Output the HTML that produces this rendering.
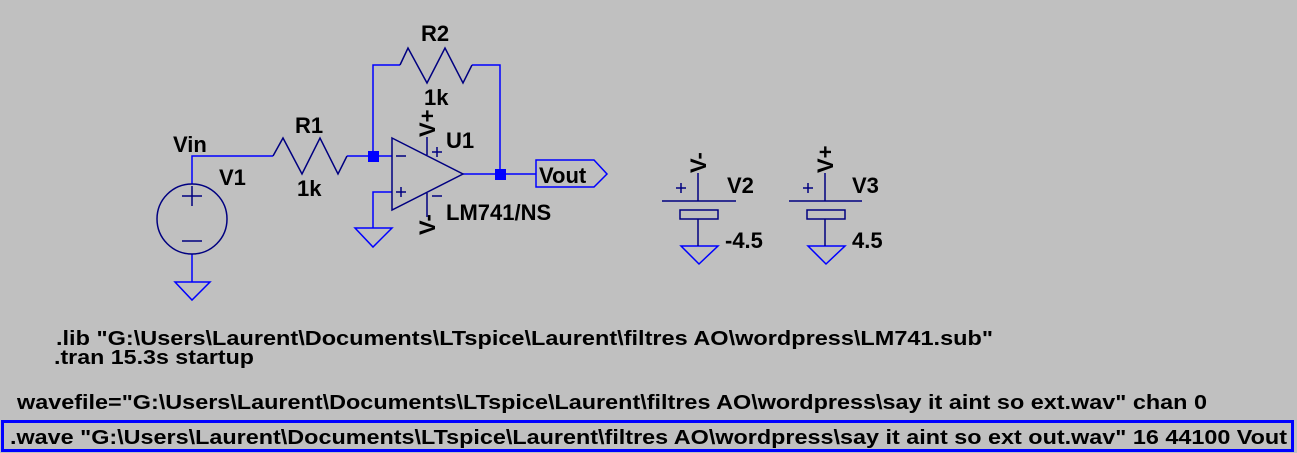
<!DOCTYPE html>
<html><head><style>
html,body{margin:0;padding:0;background:#c0c0c0;}
svg{display:block;}
text{font-family:"Liberation Sans",sans-serif;font-weight:bold;fill:#000;}
</style></head><body>
<svg width="1297" height="453" viewBox="0 0 1297 453" xmlns="http://www.w3.org/2000/svg">
<rect width="1297" height="453" fill="#c0c0c0"/>
<g fill="none" stroke="#0000ff" stroke-width="1.5">
<polyline points="192,184 192,156 273,156"/>
<polyline points="347,156 392,156"/>
<polyline points="392,192 373,192 373,228"/>
<polyline points="463,174 536,174"/>
<polyline points="373,156 373,65 400,65"/>
<polyline points="472,65 500,65 500,174"/>
<polyline points="192,254 192,282"/>
<polygon points="175,282 210,282 192,300"/>
<polygon points="355,228 392,228 373,247"/>
<polygon points="536,160 594,160 607,174 594,187 536,187"/>
<polygon points="681,246 718,246 699,264"/>
<polygon points="808,246 845,246 826,264"/>
</g>
<g fill="none" stroke="#000080" stroke-width="1.5">
<polyline points="273,156 283,138 302,174 320,138 338,174 347,156"/>
<polyline points="400,65 408,48 427,83 445,48 463,83 472,65"/>
<polygon points="392,138 463,174 392,210"/>
<line x1="427" y1="137" x2="427" y2="155"/>
<line x1="427" y1="193" x2="427" y2="217"/>
<circle cx="192" cy="219" r="35"/>
<line x1="182" y1="196" x2="202" y2="196"/><line x1="192" y1="186" x2="192" y2="206"/>
<line x1="182" y1="241" x2="202" y2="241"/>
<line x1="396" y1="156" x2="406" y2="156"/>
<line x1="396" y1="192" x2="406" y2="192"/><line x1="401" y1="187" x2="401" y2="197"/>
<line x1="432" y1="152" x2="442" y2="152"/><line x1="437" y1="147" x2="437" y2="157"/>
<line x1="432" y1="196" x2="442" y2="196"/>
<line x1="698" y1="173" x2="698" y2="201"/><line x1="662" y1="201" x2="736" y2="201"/>
<rect x="680" y="210" width="38" height="9"/><line x1="698" y1="219" x2="698" y2="246"/>
<line x1="676" y1="188" x2="686" y2="188"/><line x1="681" y1="183" x2="681" y2="193"/>
<line x1="825" y1="173" x2="825" y2="201"/><line x1="789" y1="201" x2="862" y2="201"/>
<rect x="807" y="210" width="38" height="9"/><line x1="825" y1="219" x2="825" y2="246"/>
<line x1="803" y1="188" x2="813" y2="188"/><line x1="808" y1="183" x2="808" y2="193"/>
</g>
<rect x="368" y="151" width="11" height="11" fill="#0000ff"/>
<rect x="495" y="169" width="11" height="11" fill="#0000ff"/>
<g font-size="22">
<text x="173" y="152">Vin</text>
<text x="219" y="185">V1</text>
<text x="295" y="133">R1</text>
<text x="297" y="196">1k</text>
<text x="421" y="41">R2</text>
<text x="424" y="105">1k</text>
<text x="446" y="148">U1</text>
<text x="446" y="220">LM741/NS</text>
<text x="539" y="183">Vout</text>
<text transform="translate(435,137) rotate(-90)">V+</text>
<text transform="translate(435,235) rotate(-90)">V-</text>
<text transform="translate(706,173) rotate(-90)">V-</text>
<text transform="translate(833,173) rotate(-90)">V+</text>
<text x="727" y="193">V2</text>
<text x="852" y="193">V3</text>
<text x="725" y="248">-4.5</text>
<text x="852" y="248">4.5</text>
</g>
<g font-size="20">
<text x="56" y="345" textLength="937" lengthAdjust="spacingAndGlyphs">.lib "G:\Users\Laurent\Documents\LTspice\Laurent\filtres AO\wordpress\LM741.sub"</text>
<text x="54" y="364" textLength="200" lengthAdjust="spacingAndGlyphs">.tran 15.3s startup</text>
<text x="17" y="409" textLength="1190" lengthAdjust="spacingAndGlyphs">wavefile="G:\Users\Laurent\Documents\LTspice\Laurent\filtres AO\wordpress\say it aint so ext.wav" chan 0</text>
<text x="10" y="444" textLength="1277" lengthAdjust="spacingAndGlyphs">.wave "G:\Users\Laurent\Documents\LTspice\Laurent\filtres AO\wordpress\say it aint so ext out.wav" 16 44100 Vout</text>
</g>
<rect x="2.5" y="421.5" width="1290" height="29" fill="none" stroke="#0000ff" stroke-width="3"/>
</svg>
</body></html>
